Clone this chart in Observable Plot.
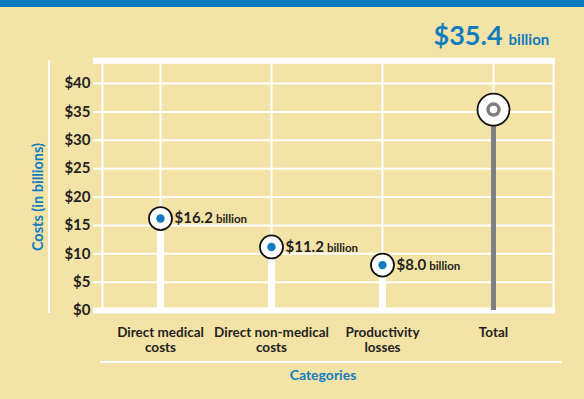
<!DOCTYPE html>
<html>
<head>
<meta charset="utf-8">
<script src="https://cdn.jsdelivr.net/npm/d3@7"></script>
<script src="https://cdn.jsdelivr.net/npm/@observablehq/plot@0.6"></script>
<style>
  html, body { margin: 0; padding: 0; background: #f4e3a6; width: 584px; height: 399px; overflow: hidden; }
  #wrap { position: relative; width: 584px; height: 399px; }
  #topbar { position: absolute; left: 0; top: 0; width: 584px; height: 7px; background: #0a7bbd; }
</style>
</head>
<body>
<div id="wrap"><div id="topbar"></div></div>
<script>
const categories = ["Direct medical costs", "Direct non-medical costs", "Productivity losses", "Total"];
const categoryLines = ["Direct medical\ncosts", "Direct non-medical\ncosts", "Productivity\nlosses", "Total"];
const values = [16.2, 11.2, 8.0, 35.4];
const yTicks = [0, 5, 10, 15, 20, 25, 30, 35, 40];
const yTop = 44;
const yLabel = "Costs (in billions)";
const xLabel = "Categories";

const rows = categories.map((c, i) => ({category: c, label: categoryLines[i], value: values[i]}));
const parts = rows.filter(d => d.category !== "Total");
const total = rows.filter(d => d.category === "Total");

const BLUE = "#0f7cc0";
const INK = "#231f20";
const FONT = "Lato, 'Open Sans', sans-serif";

const plot = Plot.plot({
  width: 584,
  height: 399,
  marginLeft: 104,
  marginRight: 35,
  marginTop: 83,
  marginBottom: 89,
  style: {background: "transparent", fontFamily: FONT, color: INK, overflow: "visible"},
  x: {type: "point", domain: categories, padding: 0.5, axis: null},
  y: {domain: [0, 40], axis: null},
  marks: [
    // horizontal gridlines (extend left as ticks)
    Plot.ruleY(yTicks.filter(d => d > 0), {stroke: "white", strokeWidth: 2, insetLeft: -11, insetRight: -4}),
    // vertical gridlines and frame sides
    Plot.ruleX(categories, {x: d => d, y1: 0, y2: yTop, stroke: "white", strokeWidth: 2}),
    Plot.frame({stroke: "white", strokeWidth: 2, fill: "none", insetLeft: -2, insetRight: -4, insetTop: -23}),
    // top border and baseline
    Plot.ruleY([yTop], {stroke: "white", strokeWidth: 6, insetLeft: -11, insetRight: -6}),
    Plot.ruleY([0], {stroke: "white", strokeWidth: 6, insetLeft: -11, insetRight: -6}),
    // y tick labels
    Plot.text(yTicks, {y: d => d, frameAnchor: "left", dx: -14, textAnchor: "end", text: d => "$" + d,
      fontSize: 15, fontWeight: 700, fill: INK}),
    // category labels
    Plot.text(rows, {x: "category", frameAnchor: "bottom", dy: 16, lineAnchor: "top", lineHeight: 1.1,
      text: "label", fontSize: 13.5, fontWeight: 700, fill: INK}),
    // axis titles
    Plot.text([yLabel], {frameAnchor: "left", dx: -66, rotate: -90, textAnchor: "middle",
      fontSize: 14.5, fontWeight: 700, fill: BLUE}),
    Plot.text([xLabel], {frameAnchor: "bottom", dy: 69, dx: -4, fontSize: 14, fontWeight: 700, fill: BLUE}),
    // stems
    Plot.ruleX(parts, {x: "category", y1: 0, y2: "value", stroke: "white", strokeWidth: 7}),
    Plot.ruleX(total, {x: "category", y1: 0, y2: "value", stroke: "#7f7f7f", strokeWidth: 5}),
    // markers
    Plot.dot(parts, {x: "category", y: "value", r: 11.5, fill: "white", stroke: "#111", strokeWidth: 1.8}),
    Plot.dot(parts, {x: "category", y: "value", r: 4.2, fill: BLUE}),
    Plot.dot(total, {x: "category", y: "value", r: 16, fill: "white", stroke: "#111", strokeWidth: 1.8}),
    Plot.dot(total, {x: "category", y: "value", r: 5.5, fill: "white", stroke: "#7f7f7f", strokeWidth: 3.5}),
    // value labels
    Plot.text(parts, {x: "category", y: "value", dx: 14, textAnchor: "start",
      text: d => `$${d.value.toFixed(1)} billion`, fontSize: 15, fontWeight: 700, fill: INK}),
    Plot.text(total, {x: "category", y: "value", dx: -60, dy: -73, textAnchor: "start",
      text: d => `$${d.value.toFixed(1)} billion`, fontSize: 27, fontWeight: 700, fill: BLUE})
  ]
});

// smaller "billion" suffix
d3.select(plot).selectAll("text").each(function() {
  const el = d3.select(this);
  const t = el.text();
  const m = t.match(/^(\$[\d.]+) billion$/);
  if (!m) return;
  const fs = this.getAttribute("font-size") || this.parentNode.getAttribute("font-size");
  const big = parseFloat(fs) || 15;
  const isTitle = big > 20;
  el.text(null);
  el.append("tspan").text(m[1]);
  el.append("tspan").attr("font-size", isTitle ? 15 : 11.5).attr("dx", isTitle ? 6 : 3).text("billion");
});

// decorative outer lines: y-axis rule and category underline
const svg = d3.select(plot);
const y = plot.scale("y");
svg.insert("line", ":first-child").attr("x1", 49).attr("x2", 49)
  .attr("y1", y.apply(yTop)).attr("y2", y.apply(0) + 3).attr("stroke", "white").attr("stroke-width", 2);
svg.insert("line", ":first-child").attr("x1", 100).attr("x2", 562)
  .attr("y1", 362).attr("y2", 362).attr("stroke", "white").attr("stroke-width", 2);

document.getElementById("wrap").prepend(plot);
</script>
</body>
</html>
